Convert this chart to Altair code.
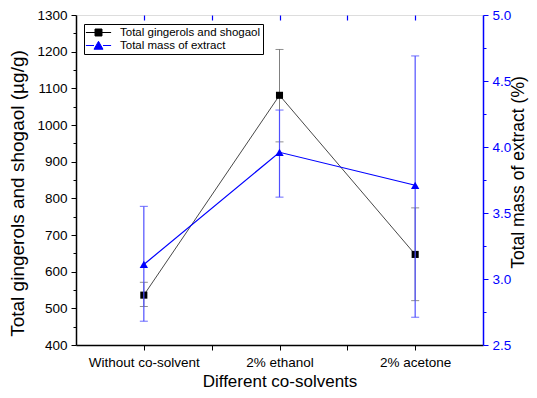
import altair as alt
import pandas as pd

categories = ["Without co-solvent", "2% ethanol", "2% acetone"]
positions = [1, 2, 3]
series_names = ["Total gingerols and shogaol", "Total mass of extract"]

ging_mean = [536, 1081, 647]
ging_low = [505, 954, 521]
ging_high = [571, 1206, 774]

mass_mean = [3.11, 3.96, 3.71]
mass_low = [2.68, 3.62, 2.71]
mass_high = [3.55, 4.28, 4.69]

left_ticks = list(range(400, 1301, 50))
right_ticks = [2.5, 2.75, 3.0, 3.25, 3.5, 3.75, 4.0, 4.25, 4.5, 4.75, 5.0]
x_ticks = [1, 1.5, 2, 2.5, 3]

df_g = pd.DataFrame({"pos": positions, "cat": categories, "val": ging_mean,
                     "lo": ging_low, "hi": ging_high, "series": series_names[0]})
df_m = pd.DataFrame({"pos": positions, "cat": categories, "val": mass_mean,
                     "lo": mass_low, "hi": mass_high, "series": series_names[1]})
df_all = pd.concat([df_g, df_m], ignore_index=True)

FONT = "Liberation Sans"
BLUE = "#0000ff"
LBL = 13.5

label_expr = " : ".join(
    [f"datum.value == {p} ? '{c}'" for p, c in zip(positions, categories)]) + " : ''"

x_scale = alt.Scale(domain=[0.5, 3.5], nice=False, zero=False)
x_bottom = alt.X("pos:Q", scale=x_scale, axis=alt.Axis(
    orient="bottom", values=x_ticks, labelExpr=label_expr, title="Different co-solvents",
    grid=False, domainColor="black", domainWidth=1.5, tickColor="black", tickSize=5,
    labelFontSize=LBL, labelFont=FONT, labelColor="black", labelPadding=5,
    titleFontSize=17, titleFont=FONT, titleFontWeight="normal", titleColor="black",
    titlePadding=5))
x_top = alt.X("pos:Q", scale=x_scale, axis=alt.Axis(
    orient="top", values=x_ticks, labels=False, domain=False, title=None, grid=False,
    tickColor=BLUE, tickSize=5, tickWidth=1.2, offset=-5))

major_left = "datum.value % 100 === 0"
yl_scale = alt.Scale(domain=[400, 1300], nice=False, zero=False)
yl_axis = alt.Axis(
    orient="left", values=left_ticks, grid=False, format="d",
    labelExpr=f"{major_left} ? datum.label : ''",
    tickSize={"condition": {"test": major_left, "value": 5}, "value": 3},
    tickColor="black", domainColor="black", domainWidth=1.5,
    labelFontSize=LBL, labelFont=FONT, labelColor="black", labelPadding=4,
    title="Total gingerols and shogaol (\u00b5g/g)", titleFontSize=19, titleY=178,
    titleFont=FONT, titleFontWeight="normal", titleColor="black",
    titlePadding=9)
major_right = "abs(datum.value * 2 - round(datum.value * 2)) < 0.001"
yr_scale = alt.Scale(domain=[2.5, 5.0], nice=False, zero=False)
yr_axis = alt.Axis(
    orient="right", values=right_ticks, grid=False, format=".1f",
    labelExpr=f"{major_right} ? datum.label : ''",
    tickSize={"condition": {"test": major_right, "value": 5}, "value": 3},
    tickColor=BLUE, domainColor=BLUE, domainWidth=1.5,
    labelFontSize=LBL, labelFont=FONT, labelColor=BLUE, labelPadding=4,
    title="Total mass of extract (%)", titleFontSize=17.5, titleAngle=270, titleY=157,
    titleFont=FONT, titleFontWeight="normal", titleColor="black",
    titlePadding=17)

# black series (left axis)
g_base = alt.Chart(df_g)
g_rule = g_base.mark_rule(color="#808080", strokeWidth=1).encode(
    x=x_bottom, y=alt.Y("lo:Q", scale=yl_scale, axis=yl_axis), y2="hi:Q")
g_cap_hi = g_base.mark_tick(color="#606060", orient="horizontal", size=8, thickness=1).encode(
    x=x_bottom, y=alt.Y("hi:Q", scale=yl_scale, axis=yl_axis))
g_cap_lo = g_base.mark_tick(color="#606060", orient="horizontal", size=8, thickness=1).encode(
    x=x_bottom, y=alt.Y("lo:Q", scale=yl_scale, axis=yl_axis))
g_line = g_base.mark_line(color="#333333", strokeWidth=0.9).encode(
    x=x_bottom, y=alt.Y("val:Q", scale=yl_scale, axis=yl_axis))
g_pts = g_base.mark_point(shape="square", filled=True, color="black", size=50, opacity=1).encode(
    x=x_bottom, y=alt.Y("val:Q", scale=yl_scale, axis=yl_axis))

shape_paths = [
    "M-2.1,0H-0.58M0.58,0H2.1M-0.58,-0.58H0.58V0.58H-0.58Z",
    "M-2.1,0H-0.75M0.75,0H2.1M0,-0.7L0.75,0.62H-0.75Z",
]
leg = dict(title=None, orient="none", legendX=8, legendY=9,
           fillColor="white", strokeColor="black", padding=2,
           symbolSize=144, symbolStrokeWidth=1, symbolOpacity=1, symbolOffset=6,
           labelFontSize=11.5, labelFont=FONT, labelColor="black", rowPadding=1,
           labelOffset=15, labelLimit=300)
legend_layer = alt.Chart(df_all).mark_point(filled=True, opacity=0).encode(
    x=x_bottom,
    fill=alt.Fill("series:N", scale=alt.Scale(domain=series_names, range=["black", BLUE]),
                  legend=alt.Legend(**leg)),
    stroke=alt.Stroke("series:N", scale=alt.Scale(domain=series_names, range=["black", BLUE]),
                      legend=alt.Legend(**leg)),
    shape=alt.Shape("series:N", scale=alt.Scale(domain=series_names, range=shape_paths),
                    legend=alt.Legend(**leg)),
)

left_group = alt.layer(g_rule, g_cap_hi, g_cap_lo, g_line, g_pts, legend_layer)

# blue series (right axis)
m_base = alt.Chart(df_m)
m_rule = m_base.mark_rule(color="#5050ff", strokeWidth=1.2).encode(
    x=x_top, y=alt.Y("lo:Q", scale=yr_scale, axis=yr_axis), y2="hi:Q")
m_cap_hi = m_base.mark_tick(color="#5050ff", orient="horizontal", size=8, thickness=1.2).encode(
    x=x_top, y=alt.Y("hi:Q", scale=yr_scale, axis=yr_axis))
m_cap_lo = m_base.mark_tick(color="#5050ff", orient="horizontal", size=8, thickness=1.2).encode(
    x=x_top, y=alt.Y("lo:Q", scale=yr_scale, axis=yr_axis))
m_line = m_base.mark_line(color=BLUE, strokeWidth=1.2).encode(
    x=x_top, y=alt.Y("val:Q", scale=yr_scale, axis=yr_axis))
m_pts = m_base.mark_point(shape="triangle-up", filled=True, color=BLUE, size=70, opacity=1).encode(
    x=x_top, y=alt.Y("val:Q", scale=yr_scale, axis=yr_axis))

right_group = alt.layer(m_rule, m_cap_hi, m_cap_lo, m_line, m_pts)

chart = alt.layer(left_group, right_group).resolve_scale(
    x="independent", y="independent"
).properties(
    width=407, height=330,
    autosize=alt.AutoSizeParams(type="none"),
    padding={"left": 68, "top": 7, "right": 46, "bottom": 45},
).configure_view(
    stroke=BLUE, strokeWidth=1.5
).configure(background="white")

chart.save("out.html", embed_options={"renderer": "svg", "actions": False})
